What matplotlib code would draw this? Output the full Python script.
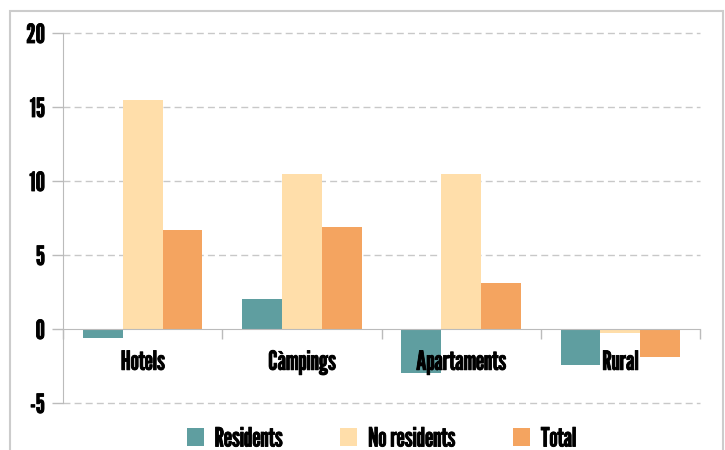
import matplotlib
matplotlib.use('Agg')
import matplotlib.pyplot as plt
import matplotlib.patheffects as pe
from matplotlib.patches import Rectangle
import numpy as np

categories = ['Hotels', 'Càmpings', 'Apartaments', 'Rural']
series = ['Residents', 'No residents', 'Total']
residents = [-0.6, 2.0, -3.0, -2.4]
no_residents = [15.5, 10.5, 10.5, -0.3]
total = [6.7, 6.9, 3.1, -1.9]
yticks = [-5, 0, 5, 10, 15, 20]

colors = ['#5F9EA0', '#FFDEAA', '#F4A460']
grey = '#BBBBBB'

plt.rcParams['font.family'] = ['League Gothic', 'DejaVu Sans']
plt.rcParams['font.size'] = 19
bold = [pe.withStroke(linewidth=0.6, foreground='black')]

fig = plt.figure(figsize=(7.25, 4.5), dpi=100)
ax = fig.add_axes([63 / 725, 1 - 403 / 450, 637 / 725, 370 / 450])

# outer frame of the chart box
fig.patches.append(Rectangle((10 / 725, -0.05), 713 / 725, 1.05 - 11 / 450,
                             transform=fig.transFigure, fill=False,
                             edgecolor='#CCCCCC', lw=1.5))

x = np.arange(len(categories))
w = 0.25
for i, (vals, name) in enumerate(zip([residents, no_residents, total], series)):
    ax.bar(x + (i - 1) * w, vals, w, color=colors[i], label=name, zorder=1)

for v in yticks:
    if v != 0:
        ax.axhline(v, color='#C8C8C8', ls=(0, (5, 3)), lw=1, zorder=0, clip_on=False)

ax.set_xlim(-0.5, len(categories) - 0.5)
ax.set_ylim(-5, 20)
ax.set_yticks(yticks)
ax.set_yticklabels([str(v) for v in yticks])
ax.tick_params(axis='y', length=8, width=1, color=grey, pad=5)

ax.spines['top'].set_visible(False)
ax.spines['right'].set_visible(False)
ax.spines['left'].set_color(grey)
ax.spines['bottom'].set_position(('data', 0))
ax.spines['bottom'].set_color(grey)

ax.set_xticks(x)
ax.set_xticklabels(categories)
ax.set_xticks(np.arange(len(categories) + 1) - 0.5, minor=True)
ax.tick_params(axis='x', which='major', length=0, pad=15)
ax.tick_params(axis='x', which='minor', length=7, width=1, color=grey)
ax.xaxis.set_zorder(5)
for t in ax.get_xticklabels() + ax.get_yticklabels():
    t.set_path_effects(bold)

leg = fig.legend(loc='center', bbox_to_anchor=(381.5 / 725, 11 / 450), ncol=3,
                 frameon=False, handlelength=0.65, handleheight=0.65,
                 handletextpad=0.4, columnspacing=2.2)
for t in leg.get_texts():
    t.set_path_effects(bold)

fig.savefig('out.png', dpi=100)
